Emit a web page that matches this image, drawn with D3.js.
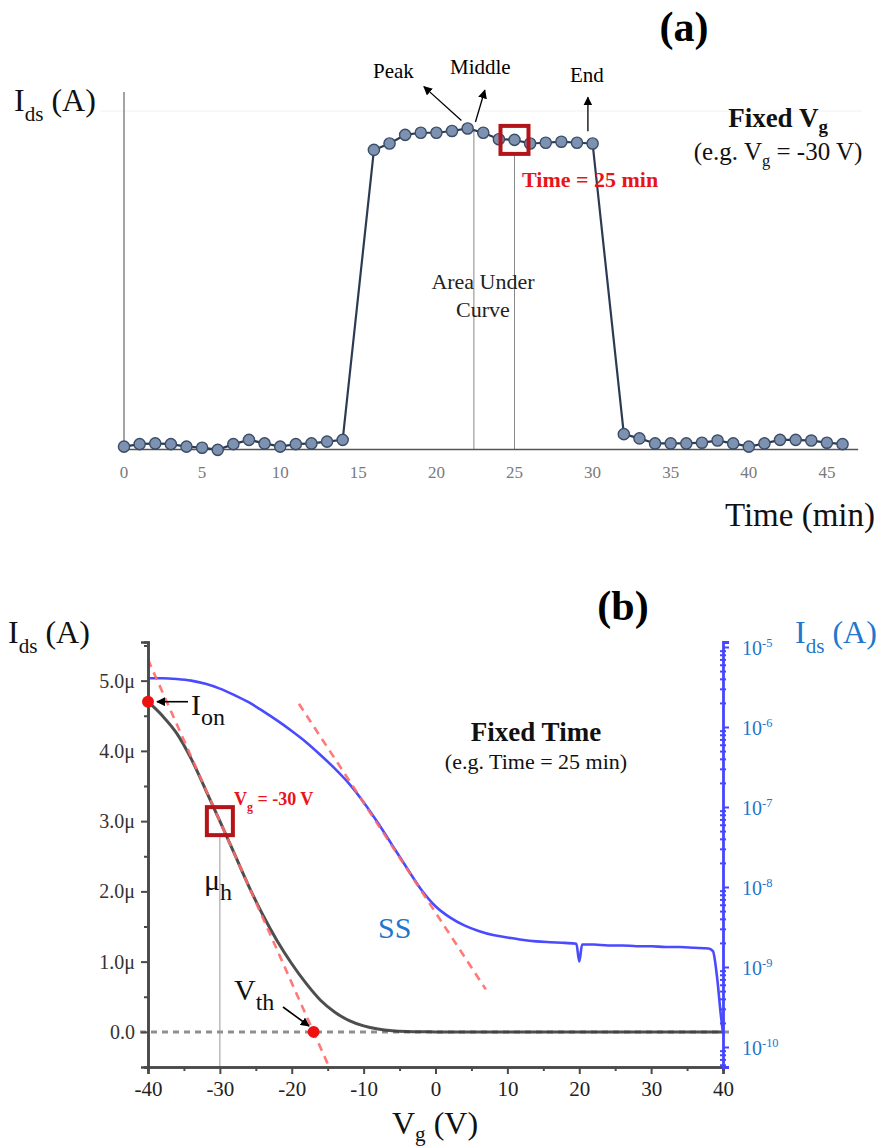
<!DOCTYPE html>
<html><head><meta charset="utf-8">
<script src="https://cdn.jsdelivr.net/npm/d3@7"></script>
<style>
body{margin:0;background:#fff}
svg{display:block}
text{font-family:"Liberation Serif","Times New Roman",serif}
</style>
</head><body>
<svg id="c" width="877" height="1148"></svg>
<script>
// ---------------- Panel (a) data ----------------
const timeMin = [0,1,2,3,4,5,6,7,8,9,10,11,12,13,14,
                 16,17,18,19,20,21,22,23,24,25,26,27,28,29,30,
                 32,33,34,35,36,37,38,39,40,41,42,43,44,45,46];
const idsA = [0.8,1.5,1.7,1.5,0.8,0.5,-0.1,1.5,2.7,1.7,0.8,1.5,1.7,2.2,2.7,
              83.8,85.6,88.0,88.6,88.6,89.1,89.8,88.6,86.8,86.6,85.6,85.8,86.1,85.8,85.6,
              4.3,3.1,1.7,1.7,1.7,1.9,2.5,1.7,0.8,1.7,2.7,2.7,2.5,1.9,1.5];
const timeTicks = [0,5,10,15,20,25,30,35,40,45];
const middleTime = 22.4;
const selectedTime = 25;

// ---------------- Panel (b) data ----------------
const vgLin = [-40,-38,-36,-34,-32,-30,-28,-26,-24,-22,-20,-18,-16,-14,-12,-10,-8,-6,-4,-2,0,10,20,30,40];
const idsLinMicro = [4.70,4.50,4.25,3.89,3.45,3.00,2.54,2.08,1.66,1.29,0.97,0.69,0.45,0.28,0.16,0.085,0.04,0.015,0.004,0.0005,0,0,0,0,0];
const vgLog = [-40,-38,-36,-34,-32,-30,-28,-26,-24,-22,-20,-18,-16,-14,-12,-10,-8,-6,-4,-2,0,2,4,6,8,10,12,14,16,18,19.6,20,20.4,22,24,26,28,30,32,34,36,38,38.6,39.2,39.7,40];
const idsLogA = [4.07e-6,4.07e-6,3.98e-6,3.80e-6,3.47e-6,3.02e-6,2.51e-6,2.04e-6,1.58e-6,1.20e-6,8.91e-7,6.46e-7,4.47e-7,3.02e-7,1.95e-7,1.15e-7,6.31e-8,3.31e-8,1.74e-8,9.33e-9,5.75e-9,4.17e-9,3.31e-9,2.82e-9,2.51e-9,2.34e-9,2.19e-9,2.09e-9,2.04e-9,2.00e-9,1.95e-9,1.17e-9,1.91e-9,1.91e-9,1.86e-9,1.86e-9,1.82e-9,1.82e-9,1.78e-9,1.78e-9,1.74e-9,1.70e-9,1.58e-9,7.1e-10,2.5e-10,1.48e-10];
const leftTicks = [0,1,2,3,4,5];
const leftTickLabels = ["0.0","1.0μ","2.0μ","3.0μ","4.0μ","5.0μ"];
const leftMinorTicks = [-0.5,0.5,1.5,2.5,3.5,4.5,5.5];
const vgTicks = [-40,-30,-20,-10,0,10,20,30,40];
const vgMinorTicks = [-35,-25,-15,-5,5,15,25,35];
const logTicks = [1e-10,1e-9,1e-8,1e-7,1e-6,1e-5];
const logTickExps = ["-10","-9","-8","-7","-6","-5"];
const ionPoint = {vg:-40, ids:4.70};
const vthPoint = {vg:-16.96, ids:0};
const selectedVg = {vg:-30, ids:3.0};
const tangentLinVg = [-40,-14.8], tangentLinIds = [5.3,-0.5];
const tangentLogVg = [-19,7], tangentLogIds = [1.95e-6,5.25e-10];

const svg = d3.select("#c");
const defs = svg.append("defs");
defs.append("marker").attr("id","arr").attr("viewBox","0 0 10 10").attr("refX",9).attr("refY",5)
  .attr("markerWidth",9).attr("markerHeight",9).attr("markerUnits","userSpaceOnUse").attr("orient","auto")
  .append("path").attr("d","M0,0 L10,5 L0,10 z").attr("fill","#000");

function rich(g, x, y, parts, o) {
  const fs = o.size;
  const t = g.append("text").attr("x",x).attr("y",y).attr("font-size",fs)
    .attr("fill",o.fill||"#111").attr("font-weight",o.bold?"bold":"normal")
    .attr("text-anchor",o.anchor||"start");
  let shift = 0;
  parts.forEach(p=>{
    let target = p.sub ? (p.shift||0.32)*fs : (p.sup ? -0.42*fs : 0);
    const s = t.append("tspan").text(p.t).attr("dy", target - shift);
    if (p.sub || p.sup) s.attr("font-size", fs*(p.scale||0.66));
    shift = target;
  });
  return t;
}

// ================= Panel (a) =================
const gA = svg.append("g");
const xA = d3.scaleLinear().domain([0,47]).range([124, 124+47*15.62]);
const yA = d3.scaleLinear().domain([0,100]).range([449.5, 92]);

gA.append("line").attr("x1",100).attr("x2",862).attr("y1",111).attr("y2",111).attr("stroke","#f0f0f0");
gA.append("line").attr("x1",xA(0)).attr("x2",xA(0)).attr("y1",yA(100)).attr("y2",yA(0)).attr("stroke","#666").attr("stroke-width",1.2);

const ptsA = timeMin.map((t,i)=>({t, v:idsA[i]}));
const midV = 89.6;
gA.append("line").attr("x1",xA(middleTime)).attr("x2",xA(middleTime)).attr("y1",yA(midV)).attr("y2",yA(0)).attr("stroke","#888").attr("stroke-width",1);
const selV = idsA[timeMin.indexOf(selectedTime)];
gA.append("line").attr("x1",xA(selectedTime)).attr("x2",xA(selectedTime)).attr("y1",yA(selV)+14).attr("y2",yA(0)).attr("stroke","#888").attr("stroke-width",1);

gA.append("line").attr("x1",xA(0)).attr("x2",xA(47)).attr("y1",yA(0)).attr("y2",yA(0)).attr("stroke","#555").attr("stroke-width",1.5);

gA.append("path").datum(ptsA).attr("fill","none").attr("stroke","#2c3b53").attr("stroke-width",2.2)
  .attr("d", d3.line().x(d=>xA(d.t)).y(d=>yA(d.v)));
gA.selectAll("circle.p").data(ptsA).enter().append("circle").attr("class","p")
  .attr("cx",d=>xA(d.t)).attr("cy",d=>yA(d.v)).attr("r",5.6)
  .attr("fill","#7d92b0").attr("stroke","#3a4c66").attr("stroke-width",1.4);

gA.selectAll("text.tk").data(timeTicks).enter().append("text").attr("class","tk")
  .attr("x",d=>xA(d)).attr("y",478).attr("text-anchor","middle").attr("font-size",17).attr("fill","#7a7a7a").text(d=>d);

gA.append("rect").attr("x",xA(selectedTime)-14).attr("y",yA(selV)-14).attr("width",28).attr("height",28)
  .attr("fill","none").attr("stroke","#b3141a").attr("stroke-width",4);

function arrow(g,x1,y1,x2,y2,w){ g.append("line").attr("x1",x1).attr("y1",y1).attr("x2",x2).attr("y2",y2)
  .attr("stroke","#000").attr("stroke-width",w||1.3).attr("marker-end","url(#arr)"); }
arrow(gA, xA(21.6), yA(92), xA(19.2), yA(101.5));
arrow(gA, xA(22.5), yA(91.6), xA(23.1), yA(100.5));
arrow(gA, xA(29.7), yA(89), xA(29.7), yA(98.5));

svg.append("text").attr("x",684).attr("y",41).attr("text-anchor","middle").attr("font-size",42).attr("font-weight","bold").text("(a)");
rich(gA, 14, 111, [{t:"I"},{t:"ds",sub:true},{t:" (A)"}], {size:32});
gA.append("text").attr("x",875).attr("y",526).attr("text-anchor","end").attr("font-size",33).attr("fill","#111").text("Time (min)");
gA.append("text").attr("x",373).attr("y",78).attr("font-size",21).text("Peak");
gA.append("text").attr("x",450).attr("y",74).attr("font-size",21).text("Middle");
gA.append("text").attr("x",570).attr("y",82).attr("font-size",21).text("End");
rich(gA, 778, 127, [{t:"Fixed V"},{t:"g",sub:true,shift:0.22,scale:0.7}], {size:27,bold:true,anchor:"middle"});
rich(gA, 778, 160, [{t:"(e.g. V"},{t:"g",sub:true,shift:0.25},{t:" = -30 V)"}], {size:25,anchor:"middle"});
gA.append("text").attr("x",522).attr("y",187).attr("font-size",22).attr("font-weight","bold").attr("fill","#e8141a").text("Time  = 25 min");
gA.append("text").attr("x",483).attr("y",289).attr("text-anchor","middle").attr("font-size",22).attr("fill","#222").text("Area Under");
gA.append("text").attr("x",483).attr("y",317).attr("text-anchor","middle").attr("font-size",22).attr("fill","#222").text("Curve");

// ================= Panel (b) =================
const gB = svg.append("g");
const xB = d3.scaleLinear().domain([-40,40]).range([148,723]);
const yL = d3.scaleLinear().domain([-0.5,5.55]).range([1067,642]);
const yR = d3.scaleLog().domain([Math.pow(10,-10.25), Math.pow(10,-4.9375)]).range([1067,642]);

gB.append("line").attr("x1",140).attr("x2",732).attr("y1",yL(0)).attr("y2",yL(0))
  .attr("stroke","#8f8f8f").attr("stroke-width",3).attr("stroke-dasharray","6,5");

gB.append("line").attr("x1",xB(selectedVg.vg)).attr("x2",xB(selectedVg.vg)).attr("y1",yL(selectedVg.ids)+14).attr("y2",1067)
  .attr("stroke","#999").attr("stroke-width",1);

const linPts = vgLin.map((v,i)=>({v, i:idsLinMicro[i]}));
gB.append("path").datum(linPts).attr("fill","none").attr("stroke","#3b3b3b").attr("stroke-opacity",0.9).attr("stroke-width",3)
  .attr("d", d3.line().x(d=>xB(d.v)).y(d=>yL(d.i)).curve(d3.curveMonotoneX));

const logPts = vgLog.map((v,i)=>({v, i:idsLogA[i]}));
gB.append("path").datum(logPts).attr("fill","none").attr("stroke","#4a4aff").attr("stroke-width",2.6)
  .attr("d", d3.line().x(d=>xB(d.v)).y(d=>yR(d.i)).curve(d3.curveMonotoneX));

gB.append("line").attr("x1",xB(tangentLinVg[0])).attr("y1",yL(tangentLinIds[0])).attr("x2",xB(tangentLinVg[1])).attr("y2",yL(tangentLinIds[1]))
  .attr("stroke","#ff6a6a").attr("stroke-width",2.6).attr("stroke-dasharray","8,6").attr("stroke-opacity",0.9);
gB.append("line").attr("x1",xB(tangentLogVg[0])).attr("y1",yR(tangentLogIds[0])).attr("x2",xB(tangentLogVg[1])).attr("y2",yR(tangentLogIds[1]))
  .attr("stroke","#ff6a6a").attr("stroke-width",2.6).attr("stroke-dasharray","8,6").attr("stroke-opacity",0.9);

const axL = gB.append("g").attr("transform","translate(148,0)")
  .call(d3.axisLeft(yL).tickValues(leftTicks).tickFormat((d,i)=>leftTickLabels[i]).tickSize(7).tickPadding(6));
gB.append("g").attr("transform","translate(148,0)").call(d3.axisLeft(yL).tickValues(leftMinorTicks).tickFormat("").tickSize(4));
const axBt = gB.append("g").attr("transform","translate(0,1067)")
  .call(d3.axisBottom(xB).tickValues(vgTicks).tickFormat(d=>d).tickSize(7).tickPadding(7));
gB.append("g").attr("transform","translate(0,1067)").call(d3.axisBottom(xB).tickValues(vgMinorTicks).tickFormat("").tickSize(4));
gB.selectAll(".domain").attr("stroke","#4a4a4a").attr("stroke-width",2.6);
gB.selectAll(".tick line").attr("stroke","#4a4a4a").attr("stroke-width",2);
axL.selectAll("text").attr("font-size",20).attr("fill","#333").attr("font-family","Liberation Serif");
axBt.selectAll("text").attr("font-size",21).attr("fill","#222").attr("font-family","Liberation Serif");

const axR = gB.append("g").attr("transform","translate(723,0)")
  .call(d3.axisRight(yR).tickValues(logTicks).tickFormat("").tickSize(6));
const minorLog = [];
for (let e=-11;e<=-5;e++) for (let m=2;m<=9;m++){ const v=m*Math.pow(10,e); if (v>yR.domain()[0] && v<yR.domain()[1]) minorLog.push(v); }
const axRm = gB.append("g").attr("transform","translate(720,0)").call(d3.axisRight(yR).tickValues(minorLog).tickFormat("").tickSize(6));
axRm.select(".domain").remove();
[axR, axRm].forEach(a=>a.selectAll(".domain, .tick line").attr("stroke","#4646ff").attr("stroke-width",2));
axR.select(".domain").attr("stroke-width",2.8);
logTicks.forEach((v,i)=>{
  rich(gB, 742, yR(v)+8, [{t:"10"},{t:logTickExps[i],sup:true,scale:0.62}], {size:20,fill:"#2277cc"});
});

gB.append("rect").attr("x",xB(selectedVg.vg)-13).attr("y",yL(selectedVg.ids)-14).attr("width",26).attr("height",28)
  .attr("fill","none").attr("stroke","#b3141a").attr("stroke-width",4);
gB.append("circle").attr("cx",xB(ionPoint.vg)).attr("cy",yL(ionPoint.ids)).attr("r",6).attr("fill","#ee1111");
gB.append("circle").attr("cx",xB(vthPoint.vg)).attr("cy",yL(vthPoint.ids)).attr("r",6).attr("fill","#ee1111");

arrow(gB, 188, yL(ionPoint.ids), 157, yL(ionPoint.ids), 1.6);
arrow(gB, 283, 1007, 309, 1026, 1.6);

svg.append("text").attr("x",623).attr("y",620).attr("text-anchor","middle").attr("font-size",42).attr("font-weight","bold").text("(b)");
rich(gB, 8, 643, [{t:"I"},{t:"ds",sub:true},{t:" (A)"}], {size:32});
rich(gB, 795, 643, [{t:"I"},{t:"ds",sub:true},{t:" (A)"}], {size:32, fill:"#2277cc"});
rich(gB, 191, 715, [{t:"I"},{t:"on",sub:true,scale:0.8}], {size:30});
rich(gB, 536, 741, [{t:"Fixed Time"}], {size:27,bold:true,anchor:"middle"});
rich(gB, 536, 769, [{t:"(e.g. Time  = 25 min)"}], {size:22,anchor:"middle"});
rich(gB, 234, 805, [{t:"V"},{t:"g",sub:true},{t:" = -30 V"}], {size:18,bold:true,fill:"#e8141a"});
rich(gB, 204, 890, [{t:"μ"},{t:"h",sub:true,scale:0.8}], {size:30});
gB.append("text").attr("x",378).attr("y",938).attr("font-size",30).attr("fill","#2277cc").text("SS");
rich(gB, 234, 1000, [{t:"V"},{t:"th",sub:true,scale:0.8}], {size:30});
rich(gB, 435, 1134, [{t:"V"},{t:"g",sub:true,shift:0.22},{t:" (V)"}], {size:32, anchor:"middle"});
</script>
</body></html>
